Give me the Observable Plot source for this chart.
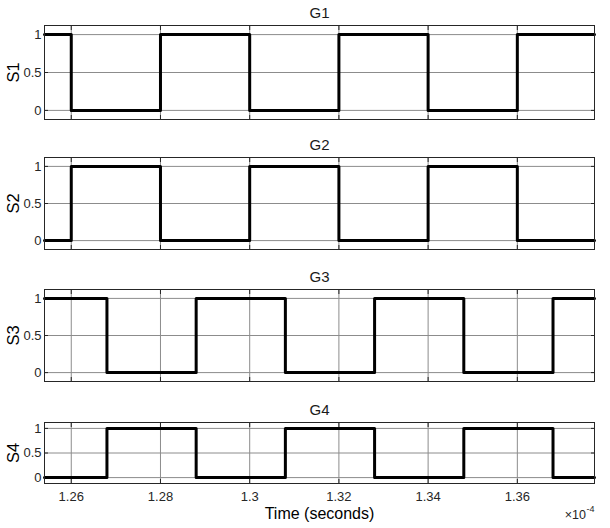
<!DOCTYPE html>
<html>
<head>
<meta charset="utf-8">
<script src="https://cdn.jsdelivr.net/npm/d3@7"></script>
<script src="https://cdn.jsdelivr.net/npm/@observablehq/plot@0.6"></script>
<style>
  html, body { margin: 0; padding: 0; background: #ffffff; }
  #chart { position: relative; width: 610px; height: 528px; background: #ffffff; overflow: hidden; }
  #chart svg { position: absolute; left: 0; }
</style>
</head>
<body>
<div id="chart"></div>
<script>
// ---- Data (time in units of 1e-4 s) ----
const panelTitles = ["G1", "G2", "G3", "G4"];
const panelLabels = ["S1", "S2", "S3", "S4"];

const g1Time  = [1.254, 1.26, 1.28, 1.30, 1.32, 1.34, 1.36, 1.3773];
const g1Value = [1, 0, 1, 0, 1, 0, 1, 1];

const g2Time  = [1.254, 1.26, 1.28, 1.30, 1.32, 1.34, 1.36, 1.3773];
const g2Value = [0, 1, 0, 1, 0, 1, 0, 0];

const g3Time  = [1.254, 1.268, 1.288, 1.308, 1.328, 1.348, 1.368, 1.3773];
const g3Value = [1, 0, 1, 0, 1, 0, 1, 1];

const g4Time  = [1.254, 1.268, 1.288, 1.308, 1.328, 1.348, 1.368, 1.3773];
const g4Value = [0, 1, 0, 1, 0, 1, 0, 0];

const xTicks = [1.26, 1.28, 1.30, 1.32, 1.34, 1.36];
const xTickLabels = ["1.26", "1.28", "1.3", "1.32", "1.34", "1.36"];
const yTicks = [0, 0.5, 1];
const yTickLabels = ["0", "0.5", "1"];
const xDomain = [1.254, 1.3773];
const yDomain = [-0.12, 1.12];
const xAxisLabel = "Time (seconds)";
const xExponentBase = "×10";
const xExponentPower = "-4";

// ---- Layout ----
const W = 610;
const panelTop = [25, 157, 289, 422];
const panelBottom = [119, 249, 381, 483];
const marginTop = 24;
const fontFamily = '"Liberation Sans", Arial, Helvetica, sans-serif';
const ink = "#262626";
const gridColor = "#8c8c8c";

const series = [
  {t: g1Time, v: g1Value},
  {t: g2Time, v: g2Value},
  {t: g3Time, v: g3Value},
  {t: g4Time, v: g4Value}
];

const chart = document.getElementById("chart");

series.forEach((s, i) => {
  const isLast = i === series.length - 1;
  const h = panelBottom[i] - panelTop[i];
  const marginBottom = isLast ? 44 : 4;
  const data = s.t.map((t, k) => ({t, v: s.v[k]}));

  const marks = [
    Plot.gridX(xTicks, {stroke: gridColor, strokeOpacity: 1}),
    Plot.gridY(yTicks, {stroke: gridColor, strokeOpacity: 1}),
    Plot.axisX(xTicks, {anchor: "bottom", tickSize: -4, tickFormat: () => "", label: null, stroke: ink}),
    Plot.axisX(xTicks, {anchor: "top", tickSize: -4, tickFormat: () => "", label: null, stroke: ink}),
    Plot.axisY(yTicks, {anchor: "right", tickSize: -4, tickFormat: () => "", label: null, stroke: ink}),
    Plot.axisY(yTicks, {anchor: "left", tickSize: -4, tickFormat: () => "", label: null, stroke: ink}),
    Plot.axisY(yTicks, {anchor: "left", tickSize: 0, tickPadding: 3, label: null, fontSize: 13,
      tickFormat: d => yTickLabels[yTicks.indexOf(d)]}),
    Plot.line(data, {x: "t", y: "v", curve: "step-after", stroke: "#000000", strokeWidth: 3}),
    Plot.frame({stroke: ink}),
    Plot.text([panelTitles[i]], {frameAnchor: "top", dy: -7.5, lineAnchor: "bottom",
      fontSize: 15, fontWeight: "normal", fill: "#1a1a1a"}),
    Plot.text([panelLabels[i]], {frameAnchor: "left", dx: -31, rotate: -90,
      textAnchor: "middle", lineAnchor: "middle", fontSize: 16.5, fontWeight: "normal", fill: "#000000"})
  ];

  if (isLast) {
    marks.push(
      Plot.axisX(xTicks, {anchor: "bottom", tickSize: 0, tickPadding: 8, label: null, fontSize: 13,
        tickFormat: d => xTickLabels[xTicks.indexOf(d)]}),
      Plot.text([xAxisLabel], {frameAnchor: "bottom", dy: 35.5, lineAnchor: "bottom",
        fontSize: 16, fontWeight: "normal", fill: "#000000"}),
      Plot.text([xExponentBase], {frameAnchor: "bottom-right", dx: -8.5, dy: 35.5,
        textAnchor: "end", lineAnchor: "bottom", fontSize: 12.5, fill: ink}),
      Plot.text([xExponentPower], {frameAnchor: "bottom-right", dx: -8, dy: 28.5,
        textAnchor: "start", lineAnchor: "bottom", fontSize: 9, fill: ink})
    );
  }

  const svg = Plot.plot({
    width: W,
    height: marginTop + h + marginBottom,
    marginTop,
    marginBottom,
    marginLeft: 44,
    marginRight: 16,
    x: {domain: xDomain, axis: null},
    y: {domain: yDomain, axis: null},
    style: {fontFamily, fontSize: "13px", color: ink, background: "transparent", overflow: "visible"},
    marks
  });
  svg.style.top = (panelTop[i] - marginTop) + "px";
  chart.appendChild(svg);
});
</script>
</body>
</html>
